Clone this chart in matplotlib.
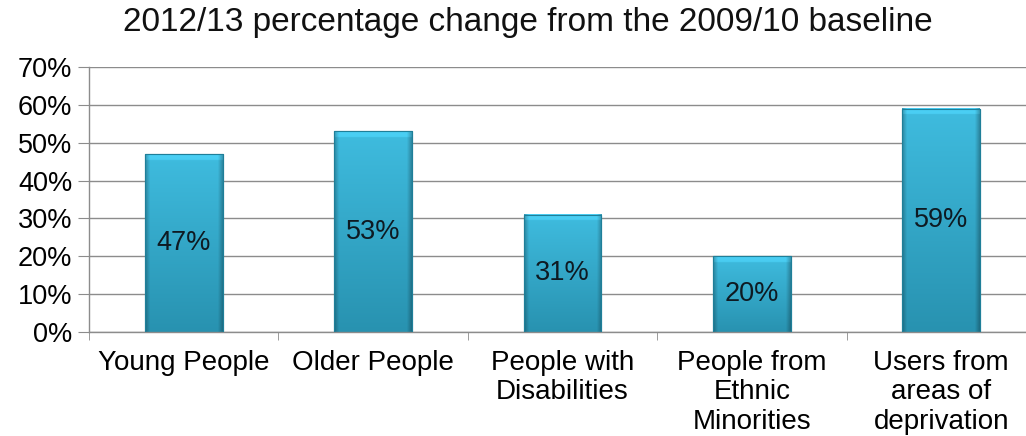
import numpy as np
import matplotlib
matplotlib.use("Agg")
import matplotlib.pyplot as plt
from matplotlib.colors import to_rgb

plt.rcParams['font.family'] = ['Liberation Sans', 'DejaVu Sans']

title = "2012/13 percentage change from the 2009/10 baseline"
categories = ["Young People", "Older People", "People with\nDisabilities",
              "People from\nEthnic\nMinorities", "Users from\nareas of\ndeprivation"]
values = [47, 53, 31, 20, 59]
y_ticks = [0, 10, 20, 30, 40, 50, 60, 70]
y_tick_labels = ["0%", "10%", "20%", "30%", "40%", "50%", "60%", "70%"]

fig = plt.figure(figsize=(10.26, 4.36), dpi=100)
ax = fig.add_axes([89 / 1026, 104 / 436, 947 / 1026, 265 / 436])

x = np.arange(len(categories))
bar_w = 0.41
bars = ax.bar(x, values, width=bar_w, color="#34AFCF", edgecolor="#1F7F99",
              linewidth=0.8, zorder=2)


def bevel_image(nx=80, ny=300):
    """Shaded cyan fill: lighter top, darker bottom, bevelled sides."""
    top = np.array(to_rgb("#3FBCDF"))
    bot = np.array(to_rgb("#2892B0"))
    t = np.linspace(0, 1, ny)[:, None, None]  # 0 at top row
    base = top * (1 - t) + bot * t
    img = np.repeat(base, nx, axis=1)
    u = np.linspace(0, 1, nx)
    edge = np.clip(np.minimum(u, 1 - u) / 0.06, 0, 1)
    shade = 0.74 + 0.26 * edge
    img = img * shade[None, :, None]
    return np.clip(img, 0, 1)


for rect in bars:
    x0 = rect.get_x()
    w = rect.get_width()
    h = rect.get_height()
    img = bevel_image()
    # soft lighter chamfer along the top edge
    ny = img.shape[0]
    cap = max(2, int(ny * 1.6 / h))
    img[:cap] = np.clip(img[:cap] * 1.06 + 0.03, 0, 1)
    ax.imshow(img, extent=(x0, x0 + w, 0, h), aspect='auto', zorder=2.5,
              interpolation='bilinear')
    ax.add_patch(plt.Rectangle((x0, 0), w, h, fill=False, edgecolor="#1F7F99",
                               linewidth=0.8, zorder=2.6))
    ax.text(rect.get_x() + w / 2, h / 2, f"{int(h)}%", ha='center', va='center',
            fontsize=19.5, color="#0E1A22", zorder=3)

ax.set_xlim(-0.5, len(categories) - 0.5)
ax.set_ylim(0, 70)
ax.set_yticks(y_ticks)
ax.set_yticklabels(y_tick_labels, fontsize=19.5)
ax.yaxis.grid(True, color="#8C8C8C", linewidth=1.0, zorder=0)
ax.set_axisbelow(True)

ax.set_xticks(x)
ax.set_xticklabels(categories, fontsize=20, linespacing=1.17, va='top')
ax.tick_params(axis='x', length=0, pad=13)
ax.set_xticks(np.arange(len(categories) + 1) - 0.5, minor=True)
ax.tick_params(axis='x', which='minor', length=6, color="#8C8C8C")
ax.tick_params(axis='y', length=8, color="#8C8C8C", pad=4)

for s in ['top', 'right']:
    ax.spines[s].set_visible(False)
for s in ['left', 'bottom']:
    ax.spines[s].set_color("#8C8C8C")
    ax.spines[s].set_linewidth(1.0)

fig.text(528 / 1026, 1 - 23 / 436, title, ha='center', va='center', fontsize=24,
         color="#111111")

fig.savefig("out.png", dpi=100)
